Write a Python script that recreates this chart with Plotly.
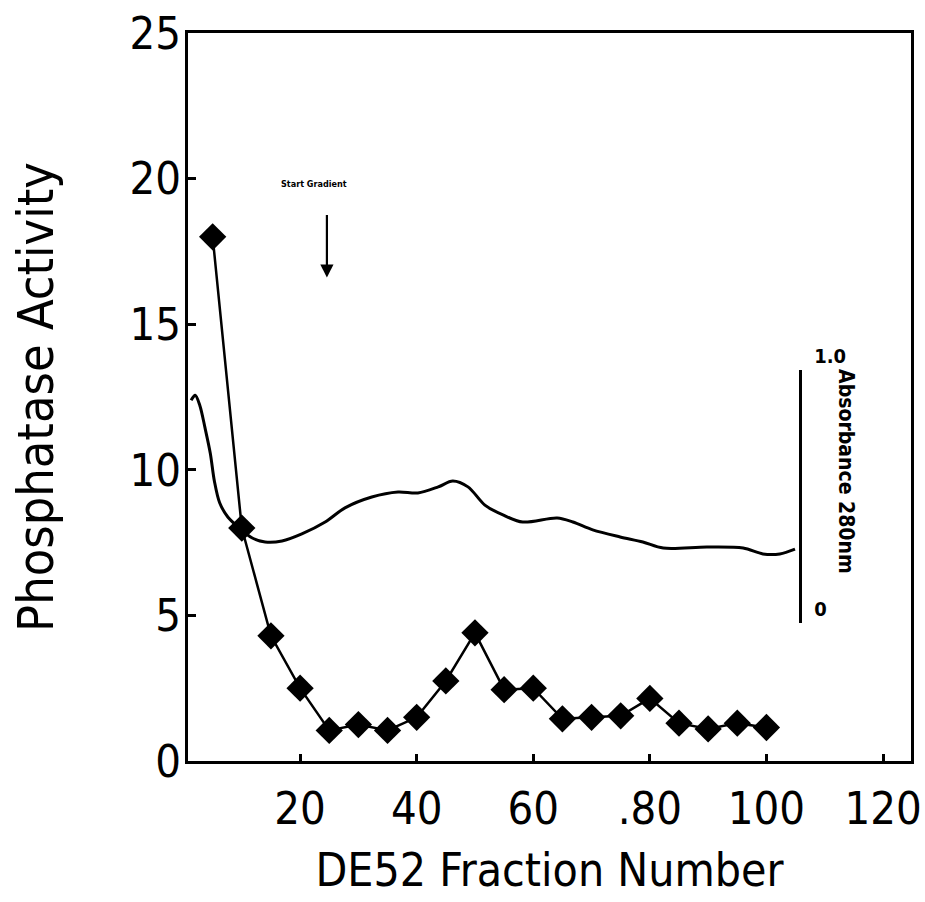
import plotly.graph_objects as go

# Phosphatase activity per DE52 fraction
fractions = [5, 10, 15, 20, 25, 30, 35, 40, 45, 50, 55, 60, 65, 70, 75, 80, 85, 90, 95, 100]
activity = [18.0, 8.0, 4.3, 2.5, 1.05, 1.25, 1.05, 1.5, 2.75, 4.4, 2.45, 2.5, 1.45, 1.5, 1.55, 2.15, 1.3, 1.1, 1.3, 1.15]

# Continuous absorbance trace at 280 nm
abs_fraction = [1.3, 2.0, 2.8, 3.7, 4.6, 5.3, 6.2, 7.6, 9.4, 11.8, 14.0, 16.9, 20.3, 24.3,
                27.7, 32.3, 36.8, 40.2, 43.7, 46.2, 48.8, 51.7, 54.8, 58.2, 64.1, 66.8,
                70.2, 74.9, 78.8, 82.3, 89.8, 96.0, 99.4, 102.3, 104.9]
absorbance = [0.880, 0.900, 0.860, 0.770, 0.670, 0.560, 0.475, 0.419, 0.379, 0.336, 0.320,
              0.324, 0.352, 0.399, 0.455, 0.498, 0.518, 0.514, 0.538, 0.561, 0.538, 0.466,
              0.427, 0.399, 0.415, 0.399, 0.368, 0.340, 0.320, 0.296, 0.300, 0.296, 0.273,
              0.273, 0.292]

x_ticks = [20, 40, 60, 80, 100, 120]
x_tick_text = ["20", "40", "60", ".80", "100", "120"]
y_ticks = [0, 5, 10, 15, 20, 25]
abs_ticks = [0, 1]
abs_tick_text = ["0", "1.0"]

FONT = "DejaVu Sans Condensed, Liberation Sans Narrow, sans-serif"
INK = "#000000"

fig = go.Figure()

fig.add_trace(go.Scatter(
    x=abs_fraction, y=absorbance, xaxis="x", yaxis="y3",
    mode="lines", line=dict(color=INK, width=3, shape="spline", smoothing=0.9),
    showlegend=False, hoverinfo="skip"))

fig.add_trace(go.Scatter(
    x=fractions, y=activity, xaxis="x", yaxis="y",
    mode="lines+markers",
    line=dict(color=INK, width=2.5),
    marker=dict(symbol="diamond", size=21, color=INK, line=dict(width=0)),
    showlegend=False))

# Start of the salt gradient
fig.add_annotation(x=22.3, y=19.8, xref="x", yref="y", text="<b>Start Gradient</b>",
                   showarrow=False, font=dict(family=FONT, size=9, color=INK))
fig.add_annotation(x=24.6, y=16.6, ax=24.6, ay=18.8, xref="x", yref="y",
                   axref="x", ayref="y", text="", showarrow=True,
                   arrowhead=2, arrowsize=1.2, arrowwidth=2.2, arrowcolor=INK)

# Label for the absorbance scale
fig.add_annotation(x=0.910, y=0.397, xref="paper", yref="paper",
                   xanchor="center", yanchor="middle",
                   text="<b>Absorbance 280nm</b>", textangle=90, showarrow=False,
                   font=dict(family=FONT, size=21, color=INK))

fig.update_layout(
    template="none",
    width=925, height=902,
    margin=dict(l=188, r=14, t=33, b=141, autoexpand=False),
    paper_bgcolor="white", plot_bgcolor="rgba(0,0,0,0)",
    font=dict(family=FONT, color=INK),
    xaxis=dict(
        range=[0.77, 124.8], tickvals=x_ticks, ticktext=x_tick_text,
        ticks="inside", ticklen=7, tickwidth=2.5, tickcolor=INK,
        showline=True, linewidth=3, linecolor=INK, mirror=True,
        showgrid=False, zeroline=False, automargin=False,
        tickfont=dict(family=FONT, size=45, color=INK),
        ticklabelstandoff=6,
        title=dict(text="DE52 Fraction Number", standoff=20,
                   font=dict(family=FONT, size=46, color=INK)),
    ),
    yaxis=dict(
        range=[0, 25], tickvals=y_ticks,
        ticks="inside", ticklen=8, tickwidth=2.5, tickcolor=INK,
        showline=True, linewidth=3, linecolor=INK, mirror=True,
        showgrid=False, zeroline=False, automargin=False,
        tickfont=dict(family=FONT, size=45, color=INK),
        ticklabelstandoff=-5,
        title=dict(text="Phosphatase Activity", standoff=60,
                   font=dict(family=FONT, size=50, color=INK)),
    ),
    yaxis3=dict(
        domain=[0.1896, 0.5371], range=[0, 1], anchor="free", position=0.847,
        side="right", tickvals=abs_ticks, ticktext=abs_tick_text,
        ticks="", showline=True, linewidth=2.5, linecolor=INK,
        showgrid=False, zeroline=False, automargin=False,
        ticklabelshift=-14, ticklabelstandoff=8,
        tickfont=dict(family=FONT, size=20, color=INK, weight="bold"),
    ),
)

fig.write_html("out.html")
